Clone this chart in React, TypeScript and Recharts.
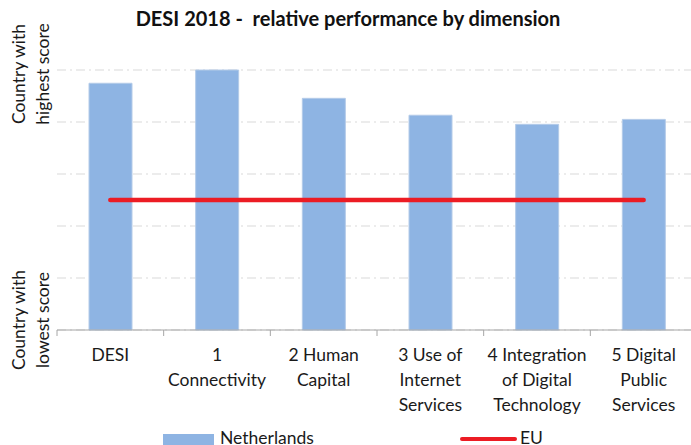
import { Bar, CartesianGrid, ComposedChart, Legend, Line, XAxis, YAxis } from "recharts";

const categories = [
	"DESI",
	"1\nConnectivity",
	"2 Human\nCapital",
	"3 Use of\nInternet\nServices",
	"4 Integration\nof Digital\nTechnology",
	"5 Digital\nPublic\nServices",
];
// 0 = country with lowest score, 1 = country with highest score
const netherlands = [0.949, 1.0, 0.891, 0.826, 0.791, 0.81];
const eu = [0.5, 0.5, 0.5, 0.5, 0.5, 0.5];
const yTicks = [0, 0.2, 0.4, 0.6, 0.8, 1];
const yEndLabels = { top: ["Country with", "highest score"], bottom: ["Country with", "lowest score"] };

const FONT = "Lato, 'Open Sans', sans-serif";
const FS = 17.5;
const BLUE = "#8EB4E3";
const RED = "#EC1C24";
const AXIS = "#A6A6A6";
const W = 700;
const H = 460;
const LEFT = 57;
const RIGHT = 3;
const BAND = (W - LEFT - RIGHT) / categories.length;

const data = categories.map((name, i) => ({ name, netherlands: netherlands[i], eu: eu[i] }));

function CategoryTick(props: any) {
	const { x, y, payload } = props;
	const lines = String(payload.value).split("\n");
	return (
		<g>
			<line x1={x - BAND / 2} x2={x - BAND / 2} y1={y} y2={y + 6} stroke={AXIS} />
			<text x={x} y={y + 31} textAnchor="middle" fontFamily={FONT} fontSize={FS} fill="#1a1a1a">
				{lines.map((l, i) => (
					<tspan key={i} x={x} dy={i === 0 ? 0 : 25}>
						{l}
					</tspan>
				))}
			</text>
		</g>
	);
}

function EndTick(props: any) {
	const { y, payload } = props;
	let lines: string[] | null = null;
	let cy = 0;
	if (payload.value === 1) {
		lines = yEndLabels.top;
		cy = y + 4;
	} else if (payload.value === 0) {
		lines = yEndLabels.bottom;
		cy = y - 10;
	}
	if (!lines) return null;
	return (
		<g>
			{lines.map((l, i) => (
				<text
					key={i}
					transform={`translate(${25 + i * 24}, ${cy}) rotate(-90)`}
					textAnchor="middle"
					fontFamily={FONT}
					fontSize={FS}
					fill="#1a1a1a"
				>
					{l}
				</text>
			))}
		</g>
	);
}

// the legend sits at the very bottom edge and is clipped there, as in the source image
function LegendBox() {
	return (
		<div style={{ position: "relative", height: 20, fontFamily: FONT, fontSize: FS, color: "#1a1a1a" }}>
			<span style={{ position: "absolute", left: 163, top: 6, width: 51, height: 14, background: BLUE }} />
			<span style={{ position: "absolute", left: 220, top: 0, lineHeight: "20px" }}>Netherlands</span>
			<span style={{ position: "absolute", left: 460, top: 9, width: 57, height: 4, borderRadius: 2, background: RED }} />
			<span style={{ position: "absolute", left: 520, top: 0, lineHeight: "20px" }}>EU</span>
		</div>
	);
}

export default function App() {
	return (
		<div style={{ position: "absolute", left: 0, top: 0, width: 691, height: 445, overflow: "hidden", background: "#fff" }}>
			<div
				style={{
					position: "absolute",
					left: 0,
					width: 696,
					top: 6,
					textAlign: "center",
					fontFamily: FONT,
					fontWeight: 700,
					fontSize: 20,
					color: "#111",
					whiteSpace: "pre",
				}}
			>
				{"DESI 2018 -  relative performance by dimension"}
			</div>
			<ComposedChart width={W} height={H} data={data} margin={{ top: 70, right: RIGHT, left: 0, bottom: 20 }}>
				<CartesianGrid horizontal vertical={false} stroke="#D9D9D9" strokeDasharray="9 4 2 4" />
				<XAxis
					dataKey="name"
					interval={0}
					height={90}
					tickSize={0}
					tickMargin={0}
					tick={<CategoryTick />}
					axisLine={{ stroke: AXIS }}
				/>
				<YAxis
					type="number"
					domain={[0, 1]}
					ticks={yTicks}
					width={LEFT}
					axisLine={false}
					tickLine={false}
					tick={<EndTick />}
				/>
				<Bar dataKey="netherlands" name="Netherlands" fill={BLUE} stroke="#B4CBE8" strokeWidth={1} barSize={43} isAnimationActive={false} />
				<Line
					dataKey="eu"
					name="EU"
					type="linear"
					stroke={RED}
					strokeWidth={4.5}
					strokeLinecap="round"
					dot={false}
					activeDot={false}
					isAnimationActive={false}
				/>
				<Legend content={<LegendBox />} wrapperStyle={{ position: "absolute", top: 428, left: 0, width: W }} />
			</ComposedChart>
		</div>
	);
}
